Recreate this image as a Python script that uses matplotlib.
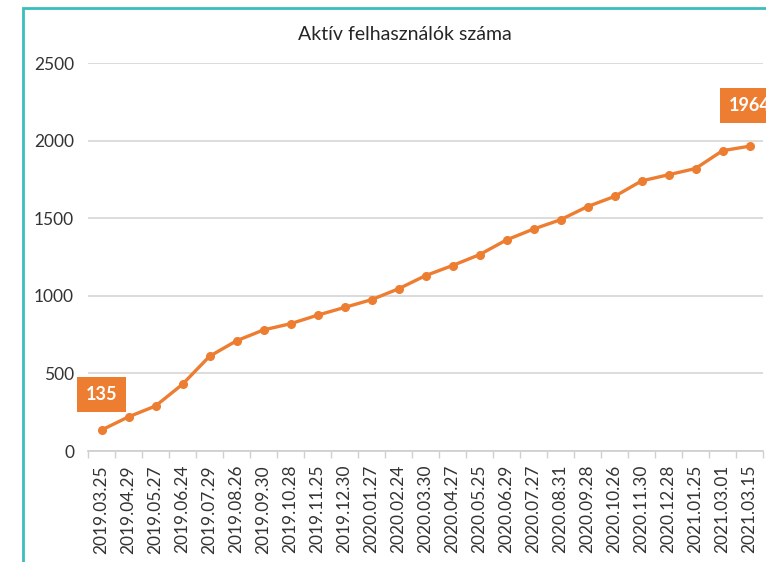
import matplotlib.pyplot as plt
from matplotlib.patches import Rectangle

# adatok
dates = ['2019.03.25', '2019.04.29', '2019.05.27', '2019.06.24', '2019.07.29',
         '2019.08.26', '2019.09.30', '2019.10.28', '2019.11.25', '2019.12.30',
         '2020.01.27', '2020.02.24', '2020.03.30', '2020.04.27', '2020.05.25',
         '2020.06.29', '2020.07.27', '2020.08.31', '2020.09.28', '2020.10.26',
         '2020.11.30', '2020.12.28', '2021.01.25', '2021.03.01', '2021.03.15']
users = [135, 220, 290, 430, 610, 710, 780, 820, 875, 925,
         975, 1045, 1130, 1195, 1265, 1360, 1430, 1490, 1575, 1640,
         1740, 1780, 1820, 1935, 1964]
yticks = [0, 500, 1000, 1500, 2000, 2500]

ORANGE = '#ED7D31'
TEAL = '#3BBDBB'
plt.rcParams['font.family'] = ['Lato', 'DejaVu Sans']

W, H = 766, 562
fig = plt.figure(figsize=(W / 100, H / 100), dpi=100)
fig.patch.set_facecolor('white')

# keret (jobb és alsó széle kilóg a képből)
fig.patches.append(Rectangle((23 / W, -0.1), 1.2, 1 - 8 / H + 0.1,
                             transform=fig.transFigure, fill=False,
                             edgecolor=TEAL, linewidth=2.0))

ax = fig.add_axes([88 / W, (H - 451) / H, (763 - 88) / W, (451 - 63) / H])
x = list(range(len(dates)))
ax.plot(x, users, color=ORANGE, linewidth=2.4, marker='o', markersize=5.5,
        zorder=3, clip_on=False)

ax.set_xlim(-0.5, len(dates) - 0.5)
ax.set_ylim(0, 2500)
ax.set_yticks(yticks)
ax.set_xticks(x)
ax.set_xticklabels(dates, rotation=90, fontsize=12.5, color='#333333')
ax.tick_params(axis='x', which='major', length=0, pad=10)
ax.set_xticks([i - 0.5 for i in range(len(dates) + 1)], minor=True)
ax.tick_params(axis='x', which='minor', length=5, color='#D0D0D0', width=1)
ax.tick_params(axis='y', length=0, labelsize=12.5, labelcolor='#333333', pad=10)

ax.grid(axis='y', color='#D9D9D9', linewidth=1.3)
ax.set_axisbelow(True)
for s in ['top', 'right', 'left']:
    ax.spines[s].set_visible(False)
ax.spines['bottom'].set_color('#D0D0D0')
ax.spines['bottom'].set_linewidth(1.3)

# adatcímkék az első és utolsó pontnál (az utolsó a képszélen levágva, mint az eredetin)
for i, off in [(0, 36), (len(users) - 1, 41)]:
    ax.annotate(str(users[i]), xy=(x[i], users[i]), xytext=(0, off),
                textcoords='offset pixels', ha='center', va='center',
                fontsize=13, fontweight='bold', color='white',
                bbox=dict(boxstyle='square,pad=0.5', facecolor=ORANGE,
                          edgecolor='none'), annotation_clip=False)

fig.text(405 / W, 1 - 34 / H, 'Aktív felhasználók száma', ha='center',
         va='center', fontsize=14, color='#262626')

fig.savefig('out.png', dpi=100)
